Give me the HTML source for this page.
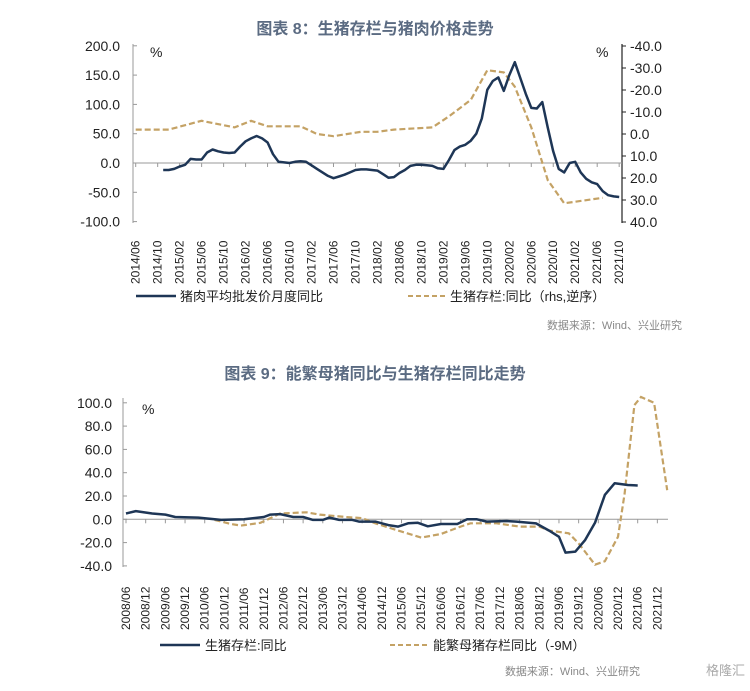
<!DOCTYPE html>
<html><head><meta charset="utf-8">
<style>
html,body{margin:0;padding:0;background:#fff;}
body{width:750px;height:686px;overflow:hidden;font-family:"Liberation Sans","Noto Sans CJK SC",sans-serif;}
svg text{font-family:"Liberation Sans","Noto Sans CJK SC",sans-serif;}
</style></head>
<body>
<svg id="c" width="750" height="686" xmlns="http://www.w3.org/2000/svg">
<text x="375" y="34" text-anchor="middle" font-size="16" font-weight="bold" fill="#5b6b82">图表 8：生猪存栏与猪肉价格走势</text>
<text x="375" y="379" text-anchor="middle" font-size="16" font-weight="bold" fill="#5b6b82">图表 9：能繁母猪同比与生猪存栏同比走势</text>
<text x="150" y="57" font-size="14" fill="#222">%</text>
<text x="596" y="57" font-size="14" fill="#222">%</text>
<text x="142" y="414" font-size="14" fill="#222">%</text>
<g>
<line x1="136" y1="296" x2="176" y2="296" stroke="#1e3656" stroke-width="2.5"/>
<text x="180" y="301" font-size="13" fill="#222">猪肉平均批发价月度同比</text>
<line x1="408" y1="296" x2="446" y2="296" stroke="#c4a265" stroke-width="2" stroke-dasharray="5,3"/>
<text x="450" y="301" font-size="13" fill="#222">生猪存栏:同比（rhs,逆序）</text>
</g>
<text x="682" y="329" text-anchor="end" font-size="11" fill="#888">数据来源：Wind、兴业研究</text>
<g>
<line x1="160" y1="645" x2="200" y2="645" stroke="#1e3656" stroke-width="2.5"/>
<text x="205" y="650" font-size="13" fill="#222">生猪存栏:同比</text>
<line x1="390" y1="645" x2="428" y2="645" stroke="#c4a265" stroke-width="2" stroke-dasharray="5,3"/>
<text x="433" y="650" font-size="13" fill="#222">能繁母猪存栏同比（-9M）</text>
</g>
<text x="640" y="675" text-anchor="end" font-size="11" fill="#888">数据来源：Wind、兴业研究</text>
<text x="745" y="675" text-anchor="end" font-size="13" fill="#aaa">格隆汇</text>
</svg>
<script>
// ---- Chart 8 data ----
const c8Labels = ["2014/06","2014/10","2015/02","2015/06","2015/10","2016/02","2016/06","2016/10","2017/02","2017/06","2017/10","2018/02","2018/06","2018/10","2019/02","2019/06","2019/10","2020/02","2020/06","2020/10","2021/02","2021/06","2021/10"];
const c8LeftTicks = [200,150,100,50,0,-50,-100];
const c8RightTicks = [-40,-30,-20,-10,0,10,20,30,40];
const priceMonths = [5,6,7,8,9,10,11,12,13,14,15,16,17,18,19,20,21,22,23,24,25,26,27,28,29,30,31,32,33,34,35,36,37,38,39,40,41,42,43,44,45,46,47,48,49,50,51,52,53,54,55,56,57,58,59,60,61,62,63,64,65,66,67,68,69,70,71,72,73,74,75,76,77,78,79,80,81,82,83,84,85,86,87,88];
const priceValues = [-12,-12,-10,-6,-3,7,6,6,18,23,20,18,17,18,28,37,42,46,42,35,15,2,1,0,2,3,2,-4,-10,-16,-22,-26,-23,-20,-16,-12,-11,-11,-12,-13,-19,-25,-24,-17,-12,-5,-3,-3,-4,-5,-9,-10,5,22,28,31,38,50,76,125,140,146,123,150,172,145,118,94,93,104,60,20,-10,-16,0,2,-16,-27,-33,-36,-48,-55,-57,-58];
const hogMonths = [0,6,12,18,21,24,30,33,36,41,44,47,54,57,61,64,67,69,72,75,78,85];
const hogValues = [-2,-2,-6,-3,-6,-3.5,-3.5,0,1,-1,-1,-2,-3,-8,-15.5,-29,-28,-21.5,-3,21,31.5,29];

// ---- Chart 9 data ----
const c9Labels = ["2008/06","2008/12","2009/06","2009/12","2010/06","2010/12","2011/06","2011/12","2012/06","2012/12","2013/06","2013/12","2014/06","2014/12","2015/06","2015/12","2016/06","2016/12","2017/06","2017/12","2018/06","2018/12","2019/06","2019/12","2020/06","2020/12","2021/06","2021/12"];
const c9Ticks = [100,80,60,40,20,0,-20,-40];
const stockMonths = [0,3,8,12,15,22,29,36,42,44,47,51,54,57,60,62,65,69,71,76,80,83,86,89,92,96,101,104,107,110,116,119,125,129,132,134,137,140,143,146,149,153,156];
const stockValues = [5,7,5,4,2,1.5,-0.5,0,2,4,4.5,2,2,-0.5,-0.5,1.5,-0.5,-0.5,-2,-2,-5,-6.3,-3.4,-3,-6,-4,-4,0,0,-2,-1.5,-2,-3.5,-9.7,-15,-28.6,-27.7,-17.7,-3,21,31,29.4,29];
const sowMonths = [27,32,35,41,47,55,59,67,72,76,84,90,96,102,105,113,120,126,129,135,138,143,146,150,152,155,157,161,165];
const sowValues = [-0.5,-4,-5.4,-3,5,6,4,2,1,-3.4,-10.6,-15.7,-12.6,-6.3,-3.4,-3.4,-6.3,-6.3,-9.7,-12,-20.6,-39,-36,-15,22,98,105,100,25];

const NS = "http://www.w3.org/2000/svg";
const svg = document.getElementById('c');
function mk(tag, attrs, parent){const e=document.createElementNS(NS,tag);for(const k in attrs)e.setAttribute(k,attrs[k]);(parent||svg).appendChild(e);return e;}

const x8 = m => 135.7 + m*5.494;
const y8 = v => 163 - v*29.3/50;
const yR8 = v => 46 + (v+40)*2.2;
const x9 = m => 126 + m*3.28;
const y9 = v => 519.3 - v*23.3/20;

function drawChart8(){
  const g = mk('g',{});
  
  
  mk('line',{x1:133,y1:44,x2:133,y2:223,stroke:'#999','stroke-width':1},g);
  mk('line',{x1:622,y1:44,x2:622,y2:223,stroke:'#222','stroke-width':1.2},g);
  mk('line',{x1:133,y1:y8(0),x2:622,y2:y8(0),stroke:'#999','stroke-width':1},g);
  c8LeftTicks.forEach(v=>{
    mk('line',{x1:133,y1:y8(v),x2:137,y2:y8(v),stroke:'#999'},g);
    const t=mk('text',{x:120,y:y8(v)+5,'text-anchor':'end','font-size':14,fill:'#222'},g);
    t.textContent=v.toFixed(1);
    
    
  });
  c8RightTicks.forEach(v=>{
    mk('line',{x1:622,y1:yR8(v),x2:626,y2:yR8(v),stroke:'#222'},g);
    const t=mk('text',{x:630,y:yR8(v)+5,'font-size':14,fill:'#222'},g);
    t.textContent=v.toFixed(1);
    
    
  });
  c8Labels.forEach((l,i)=>{
    const x=x8(i*4);
    mk('line',{x1:x,y1:y8(0),x2:x,y2:y8(0)+4,stroke:'#999'},g);
    const t=mk('text',{transform:`translate(${x+4},284) rotate(-90)`,'font-size':12,fill:'#222'},g);
    t.textContent=l;
    
    
  });
  const hp=mk('path',{d:hogMonths.map((m,i)=>(i?'L':'M')+x8(m).toFixed(1)+','+yR8(hogValues[i]).toFixed(1)).join(''),fill:'none',stroke:'#c4a265','stroke-width':2.2,'stroke-dasharray':'6,3'});
  
  
  const pp=mk('path',{d:priceMonths.map((m,i)=>(i?'L':'M')+x8(m).toFixed(1)+','+y8(priceValues[i]).toFixed(1)).join(''),fill:'none',stroke:'#1e3656','stroke-width':2.5,'stroke-linejoin':'round'});
  
  
}
function drawChart9(){
  const g = mk('g',{});
  
  
  mk('line',{x1:123,y1:398,x2:123,y2:567,stroke:'#999','stroke-width':1},g);
  mk('line',{x1:123,y1:y9(0),x2:668,y2:y9(0),stroke:'#999','stroke-width':1},g);
  c9Ticks.forEach(v=>{
    mk('line',{x1:123,y1:y9(v),x2:127,y2:y9(v),stroke:'#999'},g);
    const t=mk('text',{x:112,y:y9(v)+5,'text-anchor':'end','font-size':14,fill:'#222'},g);
    t.textContent=v.toFixed(1);
    
    
  });
  c9Labels.forEach((l,i)=>{
    const x=x9(i*6);
    mk('line',{x1:x,y1:y9(0),x2:x,y2:y9(0)+4,stroke:'#999'},g);
    const t=mk('text',{transform:`translate(${x+4},630) rotate(-90)`,'font-size':12,fill:'#222'},g);
    t.textContent=l;
    
    
  });
  const sp=mk('path',{d:sowMonths.map((m,i)=>(i?'L':'M')+x9(m).toFixed(1)+','+y9(sowValues[i]).toFixed(1)).join(''),fill:'none',stroke:'#c4a265','stroke-width':2.2,'stroke-dasharray':'6,3'});
  
  
  const st=mk('path',{d:stockMonths.map((m,i)=>(i?'L':'M')+x9(m).toFixed(1)+','+y9(stockValues[i]).toFixed(1)).join(''),fill:'none',stroke:'#1e3656','stroke-width':2.5,'stroke-linejoin':'round'});
  
  
}
drawChart8();
drawChart9();
</script>
</body></html>
